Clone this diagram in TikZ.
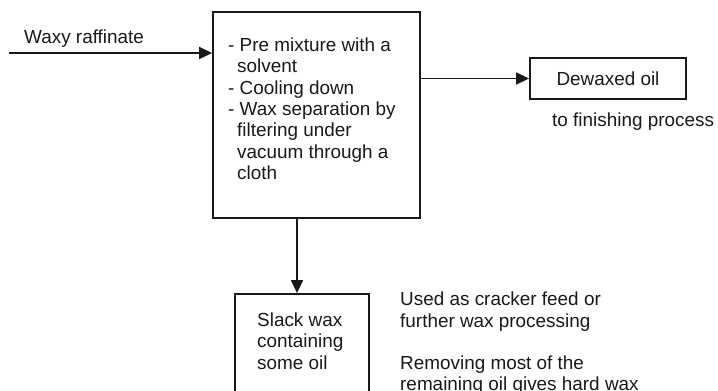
\documentclass[tikz,border=0pt]{standalone}
\usepackage{fontspec}
\setmainfont{Liberation Sans}
\usetikzlibrary{arrows.meta}
\begin{document}
\begin{tikzpicture}[x=1pt,y=-1pt,
  txt/.style={inner sep=0pt,anchor=north west,align=left,font=\fontsize{18.9}{21.3}\selectfont,text=black!90},
  boxst/.style={draw=black!90,line width=1.8pt,inner sep=0pt},
  arr/.style={draw=black!90,line width=1.6pt,-{Triangle[length=13pt,width=12pt]}}]
\useasboundingbox (0,0) rectangle (718,391);
% main box
\node[boxst,minimum width=207pt,minimum height=206pt] (main) at (316.5,115) {};
\node[txt] (maintext) at (228,37.8) {- Pre mixture with a\\\hspace*{9pt}solvent\\- Cooling down\\- Wax separation by\\\hspace*{9pt}filtering under\\\hspace*{9pt}vacuum through a\\\hspace*{9pt}cloth};
% input
\coordinate (in) at (9,53);
\node[txt] (waxy) at (24,29.8) {Waxy raffinate};
\draw[arr] (in) -- (in -| main.west);
% dewaxed oil
\node[boxst,minimum width=156pt,minimum height=41pt,font=\fontsize{18.9}{21.3}\selectfont,text=black!90] (dewax) at (608,78.5) {Dewaxed oil};
\node[txt] (finish) at (552,112.8) {to finishing process};
\draw[arr] (main.east |- dewax.west) -- (dewax.west);
% slack wax
\node[boxst,minimum width=134pt,minimum height=140pt] (slack) at (302,364) {};
\node[txt] (slacktext) at (257,312.8) {Slack wax\\containing\\some oil};
\draw[arr] (main.south -| 297,0) -- (slack.north -| 297,0);
\node[txt] (uses) at (400,291.8) {Used as cracker feed or\\further wax processing\\[21.3pt]Removing most of the\\remaining oil gives hard wax};
\end{tikzpicture}
\end{document}
